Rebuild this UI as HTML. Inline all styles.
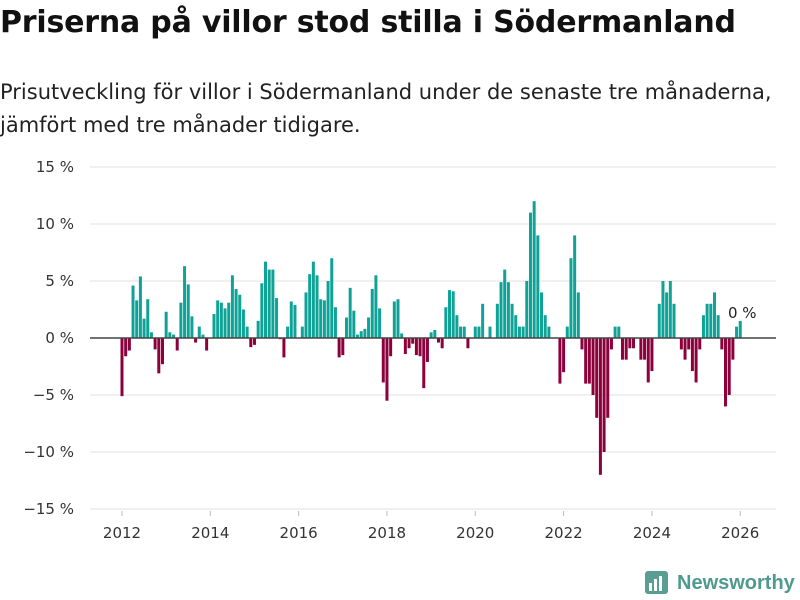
<!DOCTYPE html>
<html><head><meta charset="utf-8">
<style>
body{margin:0;width:800px;height:600px;background:#fff;overflow:hidden;font-family:"DejaVu Sans","Liberation Sans",sans-serif;}
#title{position:absolute;left:0;top:5px;font-size:30px;font-weight:bold;color:#111;margin:0;letter-spacing:-0.2px;white-space:nowrap}
#sub{position:absolute;left:0;top:76px;font-size:21px;line-height:33px;color:#222;white-space:nowrap;letter-spacing:0px}
svg{position:absolute;left:0;top:0}
</style></head><body>
<h1 id="title">Priserna på villor stod stilla i Södermanland</h1>
<div id="sub">Prisutveckling för villor i Södermanland under de senaste tre månaderna,<br>jämfört med tre månader tidigare.</div>
<svg id="chart" width="800" height="600"></svg>
<script>
const startYear = 2012;
const values = [
-5.1,-1.6,-1.1,4.6,3.3,5.4,1.7,3.4,0.5,-1.0,-3.1,-2.3,
2.3,0.5,0.3,-1.1,3.1,6.3,4.7,1.9,-0.4,1.0,0.3,-1.1,
0,2.1,3.3,3.1,2.6,3.1,5.5,4.3,3.8,2.5,1.0,-0.8,
-0.6,1.5,4.8,6.7,6.0,6.0,3.5,-0.1,-1.7,1.0,3.2,2.9,
0,1.0,4.0,5.6,6.7,5.5,3.4,3.3,5.0,7.0,2.7,-1.7,
-1.5,1.8,4.4,2.4,0.3,0.6,0.8,1.8,4.3,5.5,2.6,-3.9,
-5.5,-1.6,3.2,3.4,0.4,-1.4,-0.9,-0.5,-1.5,-1.6,-4.4,-2.1,
0.5,0.7,-0.4,-0.9,2.7,4.2,4.1,2.0,1.0,1.0,-0.9,0,
1.0,1.0,3.0,0,1.0,0,3.0,4.9,6.0,4.9,3.0,2.0,
1.0,1.0,5.0,11.0,12.0,9.0,4.0,2.0,1.0,0,0,-4.0,
-3.0,1.0,7.0,9.0,4.0,-1.0,-4.0,-4.0,-5.0,-7.0,-12.0,-10.0,
-7.0,-1.0,1.0,1.0,-1.9,-1.9,-0.9,-0.9,0,-1.9,-1.9,-3.9,
-2.9,0,3.0,5.0,4.0,5.0,3.0,0,-1.0,-1.9,-1.0,-2.9,
-3.9,-1.0,2.0,3.0,3.0,4.0,2.0,-1.0,-6.0,-5.0,-1.9,1.0,
1.5];
const yTicks = [15,10,5,0,-5,-10,-15];
const yTickLabels = ["15 %","10 %","5 %","0 %","−5 %","−10 %","−15 %"];
const xTicks = [2012,2014,2016,2018,2020,2022,2024,2026];
const lastLabel = "0 %";

const svg = document.getElementById('chart');
const NS = 'http://www.w3.org/2000/svg';
const x = i => 122 + 3.68 * i;
const xYear = yr => x((yr - startYear) * 12);
const y = v => 338 - v * 11.4;
function mk(tag, attrs){const e=document.createElementNS(NS,tag);for(const k in attrs)e.setAttribute(k,attrs[k]);svg.appendChild(e);return e;}

yTicks.forEach((t,k)=>{
  const g = mk('line',{x1:90,x2:776,y1:y(t),y2:y(t),stroke:'#e2e2e2','stroke-width':1});
  
  
  const tx = mk('text',{x:74,y:y(t)+5,'text-anchor':'end','font-size':15,fill:'#333','font-family':'DejaVu Sans, sans-serif'});
  tx.textContent = yTickLabels[k];
  
  
});
xTicks.forEach(yr=>{
  const tk = mk('line',{x1:xYear(yr),x2:xYear(yr),y1:511,y2:516,stroke:'#bbb'});
  
  
  const tx = mk('text',{x:xYear(yr),y:538,'text-anchor':'middle','font-size':15,fill:'#333','font-family':'DejaVu Sans, sans-serif'});
  tx.textContent = yr;
  
  
});
values.forEach((v,i)=>{
  const top = Math.min(y(v), y(0)), h = Math.abs(y(v)-y(0));
  const r = mk('rect',{x:x(i)-1.5,y:top,width:3,height:h,fill: v>=0?'#0fa397':'#8c003c'});
  
  
});
const zl = mk('line',{x1:90,x2:776,y1:y(0),y2:y(0),stroke:'#444','stroke-width':1.5});


const lbl = mk('text',{x:x(values.length-1)+2,y:y(values[values.length-1])-3,'text-anchor':'middle','font-size':15,fill:'#222','font-family':'DejaVu Sans, sans-serif'});
lbl.textContent = lastLabel;


</script>
<svg width="800" height="600" style="position:absolute;left:0;top:0;pointer-events:none">
  <rect x="645" y="571" width="23" height="23" rx="3" fill="#5a9e93"/>
  <rect x="649" y="583" width="3" height="8" fill="#fff"/>
  <rect x="654" y="579" width="3" height="12" fill="#fff"/>
  <rect x="659" y="576" width="3" height="15" fill="#fff"/>
  <text x="677" y="589" font-size="20" font-weight="bold" fill="#4f9a8e" font-family="Liberation Sans, sans-serif">Newsworthy</text>
</svg>
</body></html>
